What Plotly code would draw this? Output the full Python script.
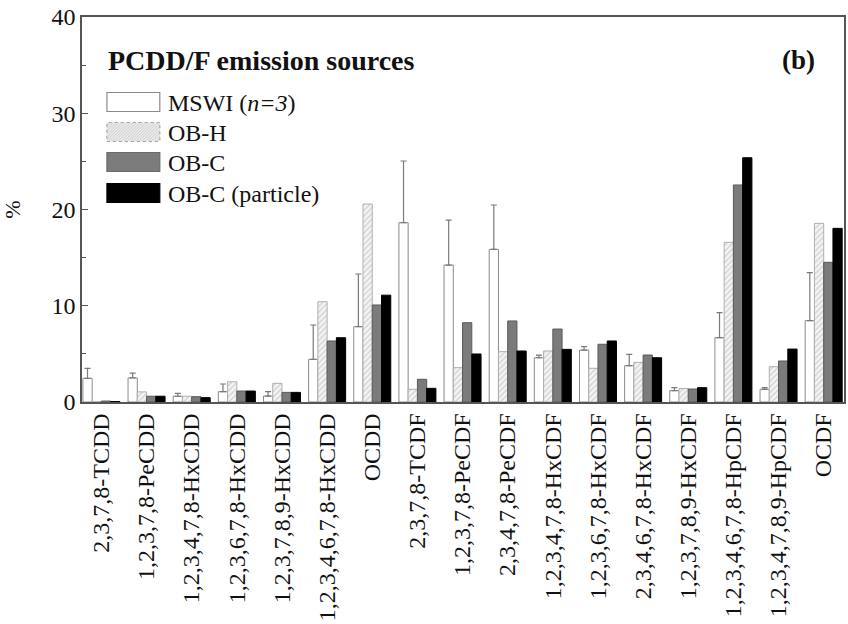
import plotly.graph_objects as go

categories = [
    "2,3,7,8-TCDD", "1,2,3,7,8-PeCDD", "1,2,3,4,7,8-HxCDD", "1,2,3,6,7,8-HxCDD",
    "1,2,3,7,8,9-HxCDD", "1,2,3,4,6,7,8-HxCDD", "OCDD", "2,3,7,8-TCDF",
    "1,2,3,7,8-PeCDF", "2,3,4,7,8-PeCDF", "1,2,3,4,7,8-HxCDF", "1,2,3,6,7,8-HxCDF",
    "2,3,4,6,7,8-HxCDF", "1,2,3,7,8,9-HxCDF", "1,2,3,4,6,7,8-HpCDF",
    "1,2,3,4,7,8,9-HpCDF", "OCDF",
]
mswi = [2.46, 2.5, 0.6, 1.07, 0.62, 4.43, 7.83, 18.63, 14.23, 15.86, 4.6, 5.4, 3.77, 1.18, 6.68, 1.32, 8.45]
mswi_err = [1.04, 0.5, 0.3, 0.8, 0.45, 3.57, 5.47, 6.41, 4.67, 4.61, 0.28, 0.35, 1.18, 0.31, 2.6, 0.17, 4.99]
ob_h = [0.03, 1.05, 0.6, 2.1, 1.94, 10.42, 20.57, 1.32, 3.57, 5.23, 5.3, 3.5, 4.12, 1.4, 16.59, 3.67, 18.56]
ob_c = [0.1, 0.6, 0.55, 1.14, 1.0, 6.34, 10.08, 2.36, 8.24, 8.42, 7.58, 6.0, 4.88, 1.35, 22.55, 4.26, 14.51]
ob_c_particle = [0.05, 0.6, 0.45, 1.14, 1.0, 6.68, 11.1, 1.42, 4.99, 5.3, 5.47, 6.34, 4.6, 1.49, 25.38, 5.5, 18.04]
series_names = ["MSWI (<i>n=3</i>)", "OB-H", "OB-C", "OB-C (particle)"]
legend_title = "PCDD/F emission sources"
panel_label = "(b)"
y_title = "%"

FONT = "Liberation Serif"
fig = go.Figure()
fig.add_trace(go.Bar(
    x=categories, y=mswi, name=series_names[0],
    marker=dict(color="white", line=dict(color="#8a8a8a", width=1)),
    error_y=dict(type="data", array=mswi_err, arrayminus=[0] * len(mswi_err),
                 symmetric=False, color="#7a7a7a", thickness=1.2, width=3),
))
fig.add_trace(go.Bar(
    x=categories, y=ob_h, name=series_names[1],
    marker=dict(color="#f2f2f2", line=dict(color="#b0b0b0", width=1),
                pattern=dict(shape="/", fgcolor="#a8a8a8", bgcolor="#f4f4f4", size=4, solidity=0.3)),
))
fig.add_trace(go.Bar(
    x=categories, y=ob_c, name=series_names[2],
    marker=dict(color="#7b7b7b", line=dict(color="#5a5a5a", width=1)),
))
fig.add_trace(go.Bar(
    x=categories, y=ob_c_particle, name=series_names[3],
    marker=dict(color="#000000", line=dict(color="#000000", width=1)),
))

FIG_W, FIG_H = 848, 624
L, R, T, B = 82, 846, 17, 402  # plot area in pixels
W, H = R - L, B - T
def px(x):
    return (x - L) / W
def py(y):
    return (B - y) / H

shapes = []
annotations = []
box_x0, box_x1 = 107, 160
rows = [102, 132, 162, 193]
styles = [
    dict(fill="white", line="#8a8a8a", dash="solid"),
    dict(fill="#ededed", line="#a0a0a0", dash="dot"),
    dict(fill="#7b7b7b", line="#6a6a6a", dash="solid"),
    dict(fill="#000000", line="#000000", dash="solid"),
]
for i, (yc, st) in enumerate(zip(rows, styles)):
    shapes.append(dict(type="rect", xref="paper", yref="paper",
                       x0=px(box_x0), x1=px(box_x1), y0=py(yc + 9.5), y1=py(yc - 9.5),
                       fillcolor=st["fill"], line=dict(color=st["line"], width=1.2, dash=st["dash"]),
                       layer="above"))
    if i == 1:
        segs = []
        step = 3
        hgt = 19
        k = -hgt
        while k < (box_x1 - box_x0):
            xa, ya = box_x0 + k, yc + 9.5
            xb, yb = xa + hgt, yc - 9.5
            if xa < box_x0:
                ya = ya - (box_x0 - xa); xa = box_x0
            if xb > box_x1:
                yb = yb + (xb - box_x1); xb = box_x1
            if xb > xa:
                segs.append(f"M{px(xa):.5f},{py(ya):.5f} L{px(xb):.5f},{py(yb):.5f}")
            k += step
        shapes.append(dict(type="path", xref="paper", yref="paper", path=" ".join(segs),
                           line=dict(color="#c0c0c0", width=0.8), layer="above"))
    annotations.append(dict(xref="paper", yref="paper", x=px(166), y=py(yc + 1),
                            xanchor="left", yanchor="middle", showarrow=False,
                            text=series_names[i], font=dict(family=FONT, size=24, color="#111")))
annotations.append(dict(xref="paper", yref="paper", x=px(106), y=py(60),
                        xanchor="left", yanchor="middle", showarrow=False,
                        text=f"<b>{legend_title}</b>", font=dict(family=FONT, size=28, color="#111")))
annotations.append(dict(xref="paper", yref="paper", x=px(819), y=py(60),
                        xanchor="right", yanchor="middle", showarrow=False,
                        text=f"<b>{panel_label}</b>", font=dict(family=FONT, size=27, color="#111")))

fig.update_layout(
    width=FIG_W, height=FIG_H,
    margin=dict(l=L, r=FIG_W - R, t=T, b=FIG_H - B),
    paper_bgcolor="white", plot_bgcolor="white",
    barmode="group", bargap=0.18, bargroupgap=0.0,
    showlegend=False,
    font=dict(family=FONT, size=22, color="#111"),
    shapes=shapes, annotations=annotations,
)
fig.update_xaxes(
    type="category", range=[-0.43, 16.45], tickangle=-90,
    showline=True, linecolor="#555", linewidth=1.5, mirror=True,
    ticks="", tickfont=dict(family=FONT, size=24, color="#111"),
    showgrid=False,
)
fig.update_yaxes(
    range=[0, 40], tickvals=[0, 10, 20, 30, 40],
    showline=True, linecolor="#555", linewidth=1.5, mirror=True,
    ticks="inside", ticklen=6, tickcolor="#555",
    minor=dict(tickvals=[5, 15, 25, 35], ticks="inside", ticklen=4, tickcolor="#555"),
    tickfont=dict(family=FONT, size=24, color="#111"),
    showgrid=False, zeroline=False,
    title=dict(text=y_title, font=dict(family=FONT, size=22, color="#111"), standoff=30),
)
fig.write_html("out.html", config={"displayModeBar": False},
               post_script="document.body.style.margin='0px';")
